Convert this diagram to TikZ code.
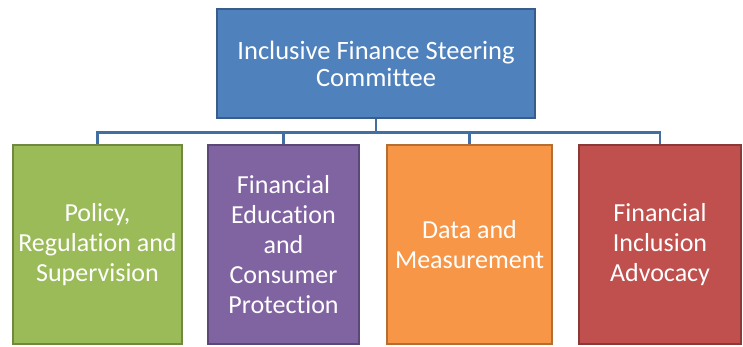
\documentclass[tikz,border=0pt]{standalone}
\usepackage{fontspec}
\setmainfont{Carlito}[Ligatures=NoCommon]
\usepackage{tikz}
\usetikzlibrary{positioning,calc}

\definecolor{steerblue}{HTML}{4F81BD}
\definecolor{steerblueline}{HTML}{385D8A}
\definecolor{polgreen}{HTML}{9BBB59}
\definecolor{polgreenline}{HTML}{71893F}
\definecolor{edupurple}{HTML}{8064A2}
\definecolor{edupurpleline}{HTML}{5C4776}
\definecolor{dataorange}{HTML}{F79646}
\definecolor{dataorangeline}{HTML}{B66D31}
\definecolor{advred}{HTML}{C0504D}
\definecolor{advredline}{HTML}{8C3836}

\begin{document}
\begin{tikzpicture}[
                    x=1pt, y=-1pt,
                    box/.style={draw, rectangle, line width=2.5pt, align=center, text=white, inner sep=2pt},
                    team/.style={box, minimum height=199pt, font=\fontsize{26}{30}\selectfont},
                    link/.style={draw=steerblue!85!black, line width=2.8pt}
                ]
                    \useasboundingbox (0,0) rectangle (743,347);

                    % committee on top
                    \node[box, fill=steerblue, draw=steerblueline, minimum width=318pt, minimum height=109pt,
                          font=\fontsize{26.5}{27}\selectfont] (ifsc) at (376,63.5) {Inclusive Finance Steering\\Committee};

                    % working groups below
                    \node[team, fill=polgreen, draw=polgreenline, minimum width=169pt] (prs) at (97.5,244.5) {Policy,\\Regulation and\\Supervision};
                    \node[team, fill=edupurple, draw=edupurpleline, minimum width=151pt] (fecp) at (283.5,244.5) {Financial\\Education\\and\\Consumer\\Protection};
                    \node[team, fill=dataorange, draw=dataorangeline, minimum width=165pt] (dm) at (469.5,244.5) {Data and\\Measurement};
                    \node[team, fill=advred, draw=advredline, minimum width=162pt] (fia) at (660,244.5) {Financial\\Inclusion\\Advocacy};

                    \path[link] (ifsc.south) -- ++(0,13) coordinate (hub);
                    \foreach \grp in {prs,fecp,dm,fia}
                        \path[link] (hub) -| (\grp.north);
                \end{tikzpicture}
\end{document}
